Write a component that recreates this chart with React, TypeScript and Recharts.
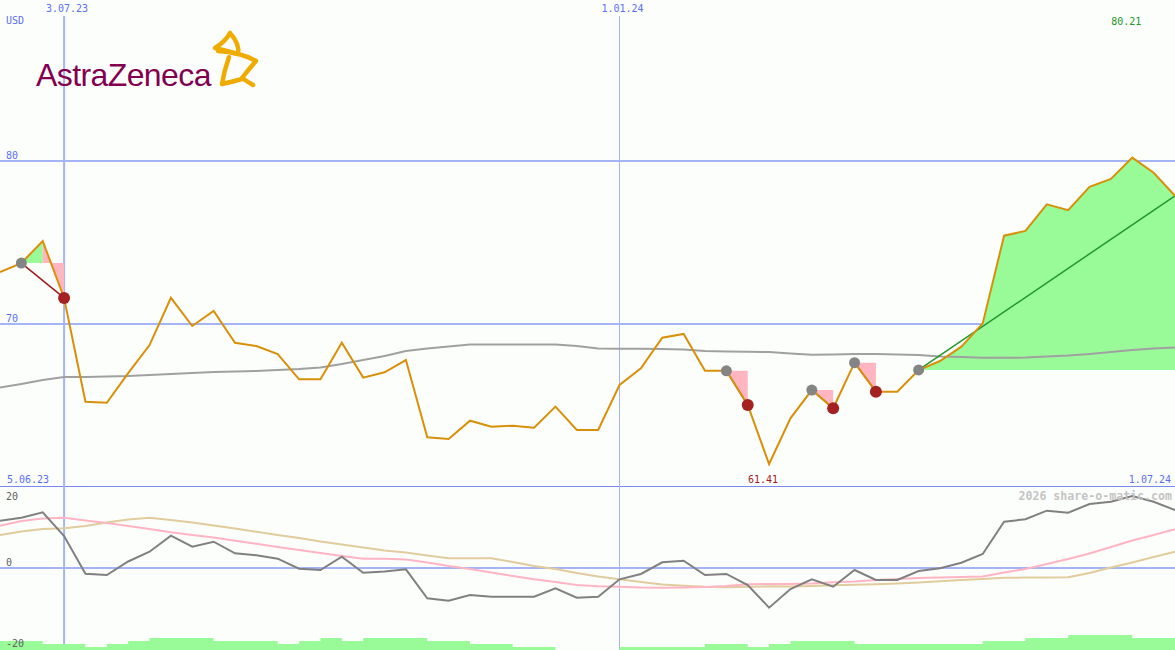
import React from "react";
import {
  ComposedChart,
  Line,
  Area,
  XAxis,
  YAxis,
  CartesianGrid,
  ReferenceLine,
} from "recharts";

// weekly closes, USD (12.06.23 .. 1.07.24)
const price = [
  73.19, 73.74, 75.09, 71.6, 65.23, 65.17, 66.99, 68.71, 71.61, 69.88, 70.8, 68.85,
  68.65, 68.16, 66.61, 66.61, 68.85, 66.71, 67.04, 67.79, 63.05, 62.94, 64.07, 63.7,
  63.76, 63.64, 64.93, 63.5, 63.5, 66.26, 67.28, 69.16, 69.39, 67.13, 67.13, 65.03,
  61.41, 64.21, 65.95, 64.83, 67.63, 65.85, 65.85, 67.18, 67.73, 68.61, 70.04, 75.42,
  75.71, 77.34, 76.99, 78.42, 78.9, 80.21, 79.28, 77.87,
];

// long moving average
const avg200 = [
  66.1, 66.32, 66.56, 66.75, 66.75, 66.78, 66.81, 66.87, 66.93, 66.99, 67.06, 67.09,
  67.12, 67.18, 67.24, 67.33, 67.55, 67.79, 68.04, 68.34, 68.5, 68.62, 68.74, 68.75,
  68.75, 68.75, 68.75, 68.65, 68.5, 68.48, 68.48, 68.47, 68.44, 68.34, 68.31, 68.3,
  68.28, 68.19, 68.12, 68.13, 68.16, 68.16, 68.13, 68.1, 68.01, 67.98, 67.93, 67.93,
  67.94, 68.01, 68.07, 68.16, 68.28, 68.4, 68.5, 68.56,
];

// lower panel
const momentum = [
  11.54, 12.27, 13.59, 7.8, -1.39, -1.71, 1.59, 3.98, 7.88, 5.2, 6.41, 3.59, 3.1, 2.27,
  -0.17, -0.49, 2.76, -1.15, -0.85, -0.32, -7.39, -7.98, -6.59, -7.0, -7.0, -7.0, -4.95,
  -7.24, -7.0, -2.76, -1.46, 1.39, 1.78, -1.71, -1.46, -4.15, -9.68, -5.12, -2.76, -4.56,
  -0.49, -2.93, -2.93, -0.73, -0.07, 1.29, 3.41, 11.29, 11.88, 13.98, 13.49, 15.61, 16.17,
  17.56, 16.17, 14.15,
];
const fastSignal = [
  10.32, 11.46, 12.07, 12.24, 11.59, 10.98, 10.24, 9.51, 8.71, 8.05, 7.44, 6.63, 5.9,
  5.12, 4.39, 3.66, 2.93, 2.27, 2.27, 2.07, 1.34, 0.49, -0.24, -1.1, -1.95, -2.76, -3.41,
  -4.15, -4.44, -4.56, -4.76, -4.8, -4.76, -4.63, -4.39, -3.98, -3.9, -3.9, -3.78, -3.49,
  -3.29, -2.93, -2.68, -2.44, -2.32, -2.2, -2.07, -1.1, -0.24, 0.98, 2.2, 3.54, 5.12,
  6.71, 8.05, 9.44,
];
const slowSignal = [
  8.05, 8.9, 9.51, 9.68, 10.24, 11.1, 11.83, 12.27, 11.71, 11.1, 10.37, 9.63, 8.83, 8.05,
  7.32, 6.46, 5.73, 5.0, 4.27, 3.78, 3.05, 2.37, 2.37, 2.37, 1.46, 0.49, -0.24, -1.22,
  -2.07, -2.76, -3.41, -4.02, -4.34, -4.59, -4.71, -4.59, -4.46, -4.51, -4.39, -4.22,
  -4.07, -3.95, -3.78, -3.54, -3.24, -2.93, -2.68, -2.37, -2.34, -2.32, -2.27, -1.22,
  0.12, 1.34, 2.68, 3.98,
];
const volume = [
  3, 3, 2, 2, 1, 2, 3, 4, 4, 4, 3, 3, 3, 2, 3, 4, 3, 4, 4, 4, 3, 3, 2, 2, 1, 1, 0, 0, 0, 1,
  1, 1, 1, 2, 2, 1, 2, 3, 3, 3, 2, 2, 2, 2, 2, 2, 3, 3, 4, 4, 5, 5, 5, 4, 4, 4,
];

// signals: [buy week, sell week]
const closedTrades: [number, number][] = [
  [1, 3],
  [34, 35],
  [38, 39],
  [40, 41],
];
const openTrade: [number, number] = [43, 55];

const dateTicks = [3, 29];
const dateLabels: Record<number, string> = { 3: "3.07.23", 29: "1.01.24" };
const firstDate = "5.06.23";
const lastDate = "1.07.24";
const priceTicks = [70, 80];
const oscTicks = [-20, 0, 20];

const MONO = "'DejaVu Sans Mono', monospace";
const BG = "#fcfefc";
const GRID = "#a4b4f4";
const SEP = "#7888ec";
const BLUE_TEXT = "#5b6ff2";
const ORANGE = "#d8900a";
const GAIN = "#98fb98";
const LOSS = "#ffb6c1";
const RED_LINE = "#a01c1c";
const GREEN_LINE = "#22962a";

const last = price.length - 1;

const rows: Record<string, any>[] = price.map((p, i) => ({ i, price: p, avg: avg200[i] }));
const fills: { key: string; color: string }[] = [];
const tradeLines: { key: string; color: string }[] = [];

[...closedTrades.map((t) => ({ t, open: false })), { t: openTrade, open: true }].forEach(
  ({ t: [b, s], open }, k) => {
    const base = price[b];
    const lk = `line${k}`;
    rows[b][lk] = price[b];
    rows[s][lk] = price[s];
    tradeLines.push({ key: lk, color: open ? GREEN_LINE : RED_LINE });

    // split into runs above / below the entry price
    let runStart = b;
    for (let j = b + 1; j <= s; j++) {
      const up = price[j] >= base;
      const isLast = j === s;
      const nextUp = isLast ? up : price[j + 1] >= base;
      if (isLast || nextUp !== up) {
        const key = `fill${fills.length}`;
        for (let m = runStart; m <= j; m++) rows[m][key] = [base, price[m]];
        fills.push({ key, color: up ? GAIN : LOSS });
        runStart = j;
      }
    }
    rows[b].buy = price[b];
    if (!open) rows[s].sell = price[s];
  }
);

const lowRows = momentum.map((m, i) => ({
  i,
  mom: m,
  fast: fastSignal[i],
  slow: slowSignal[i],
  vol: volume[i],
}));

let minIdx = 0;
let maxIdx = 0;
price.forEach((p, i) => {
  if (p < price[minIdx]) minIdx = i;
  if (p > price[maxIdx]) maxIdx = i;
});

function DateTick(props: any) {
  const { x, payload } = props;
  return (
    <text x={x + 3} y={12} textAnchor="middle" fontSize={10} fontFamily={MONO} fill={BLUE_TEXT}>
      {dateLabels[payload.value]}
    </text>
  );
}

function PriceTick(props: any) {
  const { y, payload } = props;
  return (
    <text x={6} y={y - 2} fontSize={10} fontFamily={MONO} fill={BLUE_TEXT}>
      {payload.value}
    </text>
  );
}

function OscTick(props: any) {
  const { y, payload } = props;
  const v = payload.value;
  const ty = v === 20 ? y + 14 : v === -20 ? y - 3 : y - 2;
  return (
    <text x={6} y={ty} fontSize={10} fontFamily={MONO} fill="#606060">
      {v}
    </text>
  );
}

function extremeLabel(value: string, color: string, top: boolean) {
  return (props: any) => {
    const vb = props.viewBox || {};
    const y = top ? (vb.y ?? 16) + 9 : (vb.y ?? 0) + (vb.height ?? 0) - 4;
    return (
      <text x={(vb.x ?? 0) - 6} y={y} textAnchor="middle" fontSize={10} fontFamily={MONO} fill={color}>
        {value}
      </text>
    );
  };
}

export default function App() {
  return (
    <div
      style={{
        position: "absolute",
        left: 0,
        top: 0,
        width: 1175,
        height: 650,
        background: BG,
        overflow: "hidden",
      }}
    >
      <div style={{ position: "absolute", left: 0, top: 0 }}>
        <ComposedChart
          width={1175}
          height={487}
          data={rows}
          margin={{ top: 16, right: 0, bottom: 0, left: 0 }}
        >
          <CartesianGrid horizontalValues={priceTicks} vertical={false} stroke={GRID} strokeWidth={2} />
          <CartesianGrid verticalValues={[3]} horizontal={false} stroke={GRID} strokeWidth={2} />
          <CartesianGrid verticalValues={[29]} horizontal={false} stroke={GRID} strokeWidth={1} />
          <CartesianGrid horizontalValues={[60]} vertical={false} stroke={SEP} strokeWidth={2} />
          <XAxis
            dataKey="i"
            type="number"
            domain={[0, last]}
            orientation="top"
            mirror
            ticks={dateTicks}
            interval={0}
            tick={<DateTick />}
            axisLine={false}
            tickLine={false}
          />
          <YAxis
            type="number"
            domain={[60, 88.9]}
            ticks={priceTicks}
            interval={0}
            mirror
            tick={<PriceTick />}
            axisLine={false}
            tickLine={false}
          />
          {fills.map((f) => (
            <Area
              key={f.key}
              dataKey={f.key}
              type="linear"
              stroke="none"
              fill={f.color}
              fillOpacity={1}
              dot={false}
              activeDot={false}
              isAnimationActive={false}
            />
          ))}
          <Line dataKey="avg" type="linear" stroke="#a0a0a0" strokeWidth={2} dot={false} isAnimationActive={false} />
          {tradeLines.map((t) => (
            <Line
              key={t.key}
              dataKey={t.key}
              type="linear"
              stroke={t.color}
              strokeWidth={1.5}
              connectNulls
              dot={false}
              isAnimationActive={false}
            />
          ))}
          <Line dataKey="price" type="linear" stroke={ORANGE} strokeWidth={2} dot={false} isAnimationActive={false} />
          <Line
            dataKey="buy"
            stroke="none"
            dot={{ r: 5.5, fill: "#848484", stroke: "none" }}
            activeDot={false}
            isAnimationActive={false}
          />
          <Line
            dataKey="sell"
            stroke="none"
            dot={{ r: 6, fill: "#a52020", stroke: "none" }}
            activeDot={false}
            isAnimationActive={false}
          />
          <ReferenceLine
            x={minIdx}
            stroke="none"
            label={extremeLabel(price[minIdx].toFixed(2), RED_LINE, false)}
          />
          <ReferenceLine
            x={maxIdx}
            stroke="none"
            label={extremeLabel(price[maxIdx].toFixed(2), GREEN_LINE, true)}
          />
        </ComposedChart>
      </div>

      <div style={{ position: "absolute", left: 0, top: 486 }}>
        <ComposedChart
          width={1175}
          height={164}
          data={lowRows}
          margin={{ top: 0, right: 0, bottom: 0, left: 0 }}
        >
          <CartesianGrid yAxisId="osc" horizontalValues={[0]} vertical={false} stroke={GRID} strokeWidth={2} />
          <CartesianGrid yAxisId="osc" verticalValues={[3]} horizontal={false} stroke={GRID} strokeWidth={2} />
          <CartesianGrid yAxisId="osc" verticalValues={[29]} horizontal={false} stroke={GRID} strokeWidth={1} />
          <XAxis dataKey="i" type="number" domain={[0, last]} hide />
          <YAxis
            yAxisId="osc"
            type="number"
            domain={[-20, 20]}
            ticks={oscTicks}
            interval={0}
            mirror
            tick={<OscTick />}
            axisLine={false}
            tickLine={false}
          />
          <YAxis yAxisId="vol" type="number" domain={[0, 54.67]} hide />
          <Area
            yAxisId="vol"
            dataKey="vol"
            type="stepAfter"
            stroke="none"
            fill={GAIN}
            fillOpacity={1}
            dot={false}
            activeDot={false}
            isAnimationActive={false}
          />
          <Line yAxisId="osc" dataKey="slow" type="linear" stroke="#e0cc9c" strokeWidth={2} dot={false} isAnimationActive={false} />
          <Line yAxisId="osc" dataKey="fast" type="linear" stroke="#ffb4c4" strokeWidth={2} dot={false} isAnimationActive={false} />
          <Line yAxisId="osc" dataKey="mom" type="linear" stroke="#808080" strokeWidth={2} dot={false} isAnimationActive={false} />
        </ComposedChart>
      </div>

      <svg
        width={1175}
        height={650}
        style={{ position: "absolute", left: 0, top: 0, pointerEvents: "none" }}
      >
        <text x={6} y={24} fontSize={10} fontFamily={MONO} fill={BLUE_TEXT}>
          USD
        </text>
        <text x={7} y={483} fontSize={10} fontFamily={MONO} fill={BLUE_TEXT}>
          {firstDate}
        </text>
        <text x={1171} y={483} textAnchor="end" fontSize={10} fontFamily={MONO} fill={BLUE_TEXT}>
          {lastDate}
        </text>
        <text
          x={1172}
          y={500}
          textAnchor="end"
          fontSize={11.6}
          fontWeight="bold"
          fontFamily={MONO}
          fill="#c4c4c4"
        >
          2026 share-o-matic.com
        </text>
        <text
          x={36}
          y={86}
          fontSize={32}
          fontFamily="'Liberation Sans', Arial, sans-serif"
          fill="#830051"
          letterSpacing={-0.6}
        >
          AstraZeneca
        </text>
        <g fill="none" stroke="#f0ab00" strokeWidth={4.5} strokeLinecap="round" strokeLinejoin="round">
          <path d="M230 33 Q226 41 215 48 Q227 51 238 54 Q240 44 230 33" />
          <path d="M218 51 Q240 52 256 61 Q248 70 242 78 Q248 82 253 85" />
          <path d="M229 57 Q224 71 222 84 Q232 82 242 79" />
        </g>
      </svg>
    </div>
  );
}
